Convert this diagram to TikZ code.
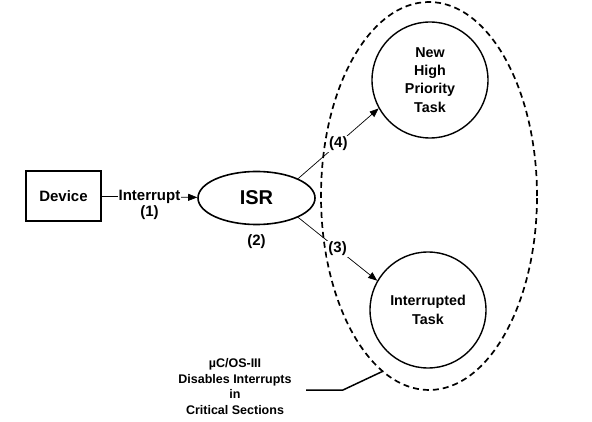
\documentclass[tikz,border=0pt]{standalone}
\usepackage{fontspec}
\setmainfont{Liberation Sans}
\usetikzlibrary{arrows.meta, positioning, shapes.geometric}

\begin{document}
\begin{tikzpicture}[x=1pt, y=-1pt, font=\bfseries,
    >={Triangle[length=9pt, width=7pt]},
    dev/.style={draw, line width=1.4pt, minimum width=75pt, minimum height=50pt, font=\fontsize{15}{18}\selectfont\bfseries},
    isr/.style={ellipse, draw, line width=1.6pt, minimum width=117pt, minimum height=53pt, font=\fontsize{20}{24}\selectfont\bfseries},
    task/.style={circle, draw, line width=1.4pt, minimum size=116pt, align=center, font=\fontsize{14.3}{18.3}\selectfont\bfseries},
    lbl/.style={fill=white, inner sep=1pt, font=\fontsize{15}{18}\selectfont\bfseries},
    note/.style={align=center, font=\fontsize{12.5}{15.7}\selectfont\bfseries},
    link/.style={->, line width=0.7pt}]
  \useasboundingbox (0,0) rectangle (592,422);

  \node[ellipse, draw, line width=1.7pt, dash pattern=on 6pt off 4pt,
        minimum width=216pt, minimum height=388pt] (crit) at (429,196) {};
  \node[dev] (dev) at (63.5,196) {Device};
  \node[isr] (isr) at (256.5,198) {ISR};
  \node[task] (high) at (430,80) {New\\High\\Priority\\Task};
  \node[task] (low) at (428,310) {Interrupted\\Task};
  \node[lbl, below=8pt of isr] (two) {(2)};

  \draw[link] (dev) -- node[lbl] (intr) {Interrupt} (isr);
  \node[lbl, below=-1pt of intr] (one) {(1)};
  \draw[link] (isr.25) -- node[lbl] {(4)} (high.209);
  \draw[link] (isr.-25) -- node[lbl] {(3)} (low.150);

  % comment
  \node[note] (note) at (235,386.5) {µC/OS-III\\Disables Interrupts\\in\\Critical Sections};
  \coordinate (tail) at (306,390);
  \coordinate (bend) at (343,390);
  \draw[line width=1.5pt] (tail) -- (bend) -- (crit.-105);
\end{tikzpicture}
\end{document}
